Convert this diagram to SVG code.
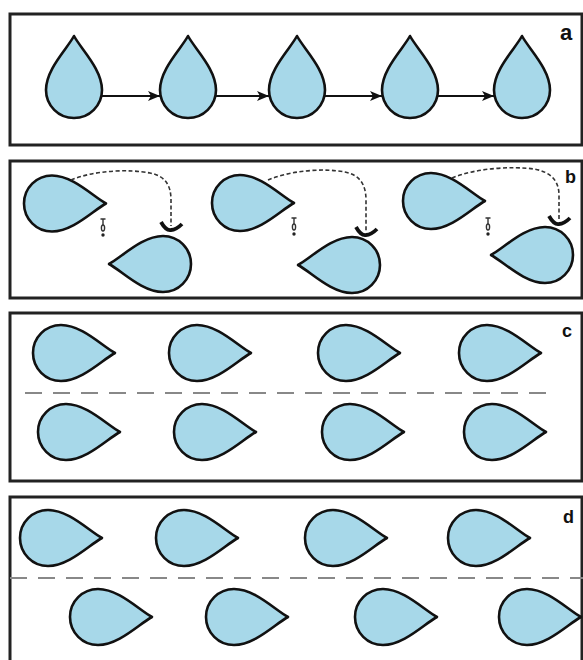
<svg xmlns="http://www.w3.org/2000/svg" xmlns:xlink="http://www.w3.org/1999/xlink" width="583" height="660" viewBox="0 0 583 660">
<style>
.panel{fill:#fff;stroke:#222;stroke-width:3}
.drop{fill:#a7d8e9;stroke:#111;stroke-width:2.6;stroke-linejoin:round}
.arrow{stroke:#111;stroke-width:2.2;fill:none}
.arc{stroke:#333;stroke-width:1.6;fill:none;stroke-dasharray:4 2.5}
.hook{stroke:#111;stroke-width:3.8;fill:none;stroke-linecap:butt}
.mark{stroke:#333;stroke-width:1.4;fill:none}
.sep{stroke:#888;stroke-width:2;stroke-dasharray:17 11;fill:none}
.lbl{font-family:"Liberation Sans",Arial,sans-serif;font-weight:bold;fill:#111}
</style>
<defs>
<path id="drop" class="drop" d="M0,-54 C7,-41 28,-21 28,0 A28,28 0 0 1 -28,0 C-28,-21 -7,-41 0,-54 Z"/>
<marker id="ah" markerUnits="userSpaceOnUse" markerWidth="13" markerHeight="10" refX="12" refY="5" orient="auto">
<path d="M0,0 L12,5 L0,10 L3,5 Z" fill="#111"/>
</marker>
<path id="hookp" class="hook" d="M-10,-9 Q-5,0 0,-1 Q5,-1 11,-7"/>
<g id="markp">
<path class="mark" d="M-2.5,0 H2.5 M0,0 V6"/>
<ellipse cx="0" cy="9" rx="1.6" ry="3" class="mark"/>
<circle cx="0" cy="16" r="1.7" fill="#222"/>
</g>
</defs>

<!-- Panel a -->
<g id="panel-a">
<rect class="panel" x="10" y="14" width="572" height="131"/>
<text class="lbl" x="560" y="40" font-size="22">a</text>
</g>
<g id="a1"><use xlink:href="#drop" transform="translate(74,90)"/></g>
<g id="a2"><use xlink:href="#drop" transform="translate(188,90)"/></g>
<g id="a3"><use xlink:href="#drop" transform="translate(297,90)"/></g>
<g id="a4"><use xlink:href="#drop" transform="translate(410,90)"/></g>
<g id="a5"><use xlink:href="#drop" transform="translate(522,90)"/></g>
<g id="a-connectors">
<line class="arrow" x1="102" y1="96" x2="160" y2="96" marker-end="url(#ah)"/>
<line class="arrow" x1="216" y1="96" x2="269" y2="96" marker-end="url(#ah)"/>
<line class="arrow" x1="325" y1="96" x2="382" y2="96" marker-end="url(#ah)"/>
<line class="arrow" x1="438" y1="96" x2="494" y2="96" marker-end="url(#ah)"/>
</g>

<!-- Panel b -->
<g id="panel-b">
<rect class="panel" x="10" y="161" width="572" height="137"/>
<text class="lbl" x="565" y="183" font-size="18">b</text>
</g>
<g id="b1-up"><use xlink:href="#drop" transform="translate(52,203.5) rotate(90)"/></g>
<g id="b1-down"><use xlink:href="#drop" transform="translate(163,264) rotate(-90)"/></g>
<g id="b2-up"><use xlink:href="#drop" transform="translate(240,203) rotate(90)"/></g>
<g id="b2-down"><use xlink:href="#drop" transform="translate(352,265) rotate(-90)"/></g>
<g id="b3-up"><use xlink:href="#drop" transform="translate(431,201) rotate(90)"/></g>
<g id="b3-down"><use xlink:href="#drop" transform="translate(545,255) rotate(-90)"/></g>
<g id="b-marks">
<use xlink:href="#markp" transform="translate(103,219)"/>
<use xlink:href="#markp" transform="translate(294,218)"/>
<use xlink:href="#markp" transform="translate(488,218)"/>
</g>
<g id="b-connectors">
<path class="arc" d="M71,180 C95,170 130,169 150,173 C165,176 171,185 171,200 L171,226"/>
<use xlink:href="#hookp" transform="translate(171,231)"/>
<path class="arc" d="M268,180 C292,170 325,168 345,172 C360,175 366,185 366,200 L366,231"/>
<use xlink:href="#hookp" transform="translate(366,236)"/>
<path class="arc" d="M452,178 C476,168 512,166 534,169 C552,172 559,182 559,195 L559,220"/>
<use xlink:href="#hookp" transform="translate(559,225)"/>
</g>

<!-- Panel c -->
<g id="panel-c">
<rect class="panel" x="10" y="313" width="572" height="168"/>
<text class="lbl" x="562" y="337" font-size="18">c</text>
<path class="sep" d="M25,393 H555"/>
</g>
<g id="c1"><use xlink:href="#drop" transform="translate(61,353) rotate(90)"/></g>
<g id="c2"><use xlink:href="#drop" transform="translate(197,353) rotate(90)"/></g>
<g id="c3"><use xlink:href="#drop" transform="translate(346,353) rotate(90)"/></g>
<g id="c4"><use xlink:href="#drop" transform="translate(487,353) rotate(90)"/></g>
<g id="c5"><use xlink:href="#drop" transform="translate(66,432) rotate(90)"/></g>
<g id="c6"><use xlink:href="#drop" transform="translate(202,432) rotate(90)"/></g>
<g id="c7"><use xlink:href="#drop" transform="translate(350,432) rotate(90)"/></g>
<g id="c8"><use xlink:href="#drop" transform="translate(492,432) rotate(90)"/></g>

<!-- Panel d -->
<g id="panel-d">
<rect class="panel" x="10" y="497" width="572" height="175"/>
<text class="lbl" x="563" y="523" font-size="18">d</text>
<path class="sep" d="M10,578 H583"/>
</g>
<g id="d1"><use xlink:href="#drop" transform="translate(48,538) rotate(90)"/></g>
<g id="d2"><use xlink:href="#drop" transform="translate(184,538) rotate(90)"/></g>
<g id="d3"><use xlink:href="#drop" transform="translate(333,538) rotate(90)"/></g>
<g id="d4"><use xlink:href="#drop" transform="translate(476,538) rotate(90)"/></g>
<g id="d5"><use xlink:href="#drop" transform="translate(98,617) rotate(90)"/></g>
<g id="d6"><use xlink:href="#drop" transform="translate(234,617) rotate(90)"/></g>
<g id="d7"><use xlink:href="#drop" transform="translate(383,617) rotate(90)"/></g>
<g id="d8"><use xlink:href="#drop" transform="translate(527,617) rotate(90)"/></g>
</svg>
